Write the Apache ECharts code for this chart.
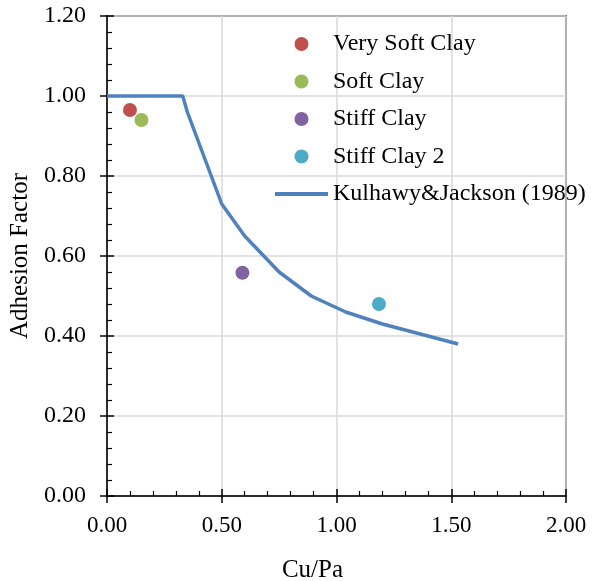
<!DOCTYPE html>
<html>
<head>
<meta charset="utf-8">
<script src="https://cdn.jsdelivr.net/npm/echarts@6/dist/echarts.min.js"></script>
<style>html,body{margin:0;padding:0;background:#fff;}#c{width:596px;height:581px;}</style>
</head>
<body>
<div id="c"></div>
<script>
// Data
const seriesNames = ['Very Soft Clay', 'Soft Clay', 'Stiff Clay', 'Stiff Clay 2'];
const pointX = [0.10, 0.15, 0.59, 1.185];
const pointY = [0.965, 0.94, 0.558, 0.48];
const lineName = 'Kulhawy&Jackson (1989)';
const lineX = [0.00, 0.30, 0.33, 0.35, 0.50, 0.60, 0.75, 0.89, 1.04, 1.20, 1.53];
const lineY = [1.00, 1.00, 1.00, 0.96, 0.73, 0.65, 0.56, 0.50, 0.46, 0.43, 0.38];
const xTicks = ['0.00', '0.50', '1.00', '1.50', '2.00'];
const yTicks = ['0.00', '0.20', '0.40', '0.60', '0.80', '1.00', '1.20'];

const colors = ['#C0504D', '#9BBB59', '#8064A2', '#4BACC6'];
const lineColor = '#4F81BD';
const FONT = '"Liberation Serif", "Times New Roman", serif';

const chart = echarts.init(document.getElementById('c'));
const series = seriesNames.map((n, i) => ({
  name: n, type: 'scatter', xAxisIndex: 0, yAxisIndex: 0,
  symbol: 'circle', symbolSize: 14,
  itemStyle: { color: colors[i], opacity: 1 },
  data: [[pointX[i], pointY[i]]],
  z: 3
}));
series.push({
  name: lineName, type: 'line', xAxisIndex: 0, yAxisIndex: 0,
  symbol: 'none', showSymbol: false,
  lineStyle: { color: lineColor, width: 3.5 },
  itemStyle: { color: lineColor },
  data: lineX.map((x, i) => [x, lineY[i]]),
  z: 2
});

chart.setOption({
  animation: false,
  textStyle: { fontFamily: FONT },
  grid: { left: 107, right: 30, top: 16, bottom: 85, outerBoundsMode: 'none', containLabel: false, show: true, borderColor: '#000', borderWidth: 1.5, backgroundColor: 'transparent' },
  legend: {
    orient: 'vertical', left: 268, top: 27,
    itemWidth: 53, itemHeight: 14, itemGap: 13.5,
    textStyle: { fontFamily: FONT, fontSize: 24, color: '#000', lineHeight: 24 },
    data: seriesNames.map(n => ({ name: n, icon: 'circle', itemStyle: { opacity: 1 } })).concat([{ name: lineName, itemStyle: { opacity: 0 }, lineStyle: { width: 4, color: lineColor } }])
  },
  xAxis: [{
    type: 'value', min: 0, max: 2, interval: 0.5, position: 'bottom',
    name: 'Cu/Pa', nameLocation: 'middle', nameGap: 62,
    nameTextStyle: { fontFamily: FONT, fontSize: 25, color: '#000', padding: [0, 48, 0, 0] },
    axisLine: { show: true, onZero: false, lineStyle: { color: '#000', width: 1.5 } },
    axisTick: { show: true, inside: false, length: 7, lineStyle: { color: '#000', width: 1.5 } },
    axisLabel: { fontFamily: FONT, fontSize: 23, color: '#000', margin: 18, formatter: (v) => xTicks[Math.round(v / 0.5)] },
    splitLine: { show: true, lineStyle: { color: '#d9d9d9', width: 1.5 } }
  }, {
    type: 'value', min: 0, max: 2, interval: 0.5, position: 'bottom', gridIndex: 0,
    axisLine: { show: false, onZero: false },
    axisTick: { show: true, inside: true, length: 7, lineStyle: { color: '#000', width: 1.5 } },
    minorTick: { show: true, splitNumber: 5, length: 5, lineStyle: { color: '#000', width: 1.2 } },
    axisLabel: { show: false },
    splitLine: { show: false }
  }],
  yAxis: [{
    type: 'value', min: 0, max: 1.2, interval: 0.2, position: 'left',
    name: 'Adhesion Factor', nameLocation: 'middle', nameGap: 66, nameRotate: 90,
    nameTextStyle: { fontFamily: FONT, fontSize: 25, color: '#000' },
    axisLine: { show: true, onZero: false, lineStyle: { color: '#000', width: 1.5 } },
    axisTick: { show: true, inside: false, length: 7, lineStyle: { color: '#000', width: 1.5 } },
    axisLabel: { fontFamily: FONT, fontSize: 24, color: '#000', margin: 21, formatter: (v) => yTicks[Math.round(v / 0.2)] },
    splitLine: { show: true, lineStyle: { color: '#d9d9d9', width: 1.5 } }
  }, {
    type: 'value', min: 0, max: 1.2, interval: 0.2, position: 'left', gridIndex: 0,
    axisLine: { show: false, onZero: false },
    axisTick: { show: true, inside: true, length: 7, lineStyle: { color: '#000', width: 1.5 } },
    minorTick: { show: true, splitNumber: 5, length: 5, lineStyle: { color: '#000', width: 1.2 } },
    axisLabel: { show: false },
    splitLine: { show: false }
  }],
  series: series
});
</script>
</body>
</html>
